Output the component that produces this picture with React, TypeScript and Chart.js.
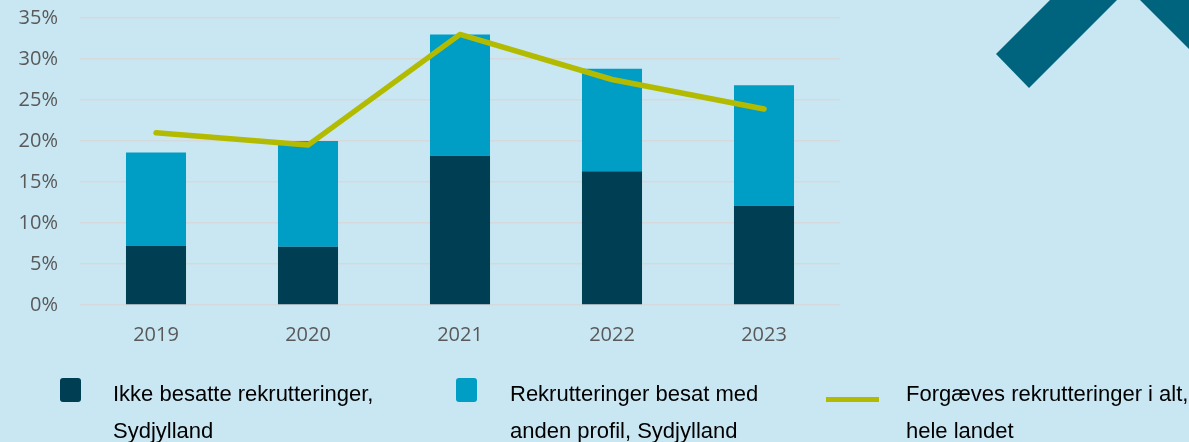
import React, { useEffect, useRef } from "react";
import { Chart, registerables } from "chart.js";

Chart.register(...registerables);

const categories = ["2019", "2020", "2021", "2022", "2023"];
const ikkeBesatte = [7.2, 7.1, 18.2, 16.3, 12.1];
const andenProfil = [11.4, 12.9, 14.8, 12.5, 14.7];
const forgaevesHeleLandet = [21.0, 19.5, 33.0, 27.5, 23.9];
const yTicks = [0, 5, 10, 15, 20, 25, 30, 35];

const legendLabels = [
  "Ikke besatte rekrutteringer, Sydjylland",
  "Rekrutteringer besat med anden profil, Sydjylland",
  "Forgæves rekrutteringer i alt, hele landet",
];

const BG = "#c9e7f3";
const DARK = "#003e53";
const LIGHT = "#009ec5";
const LINE = "#b3bb00";
const CHEVRON = "#00647e";

const W = 1189;
const H = 442;

const bgPlugin = {
  id: "bgChevron",
  beforeDraw(chart: any) {
    const ctx = chart.ctx;
    ctx.save();
    ctx.fillStyle = BG;
    ctx.fillRect(0, 0, chart.width, chart.height);
    ctx.fillStyle = CHEVRON;
    ctx.beginPath();
    ctx.moveTo(996, 54);
    ctx.lineTo(1050, 0);
    ctx.lineTo(1117, 0);
    ctx.lineTo(1029, 88);
    ctx.closePath();
    ctx.fill();
    ctx.beginPath();
    ctx.moveTo(1140, 0);
    ctx.lineTo(1189, 0);
    ctx.lineTo(1189, 49);
    ctx.closePath();
    ctx.fill();
    ctx.restore();
  },
};

export default function App() {
  const ref = useRef<HTMLCanvasElement>(null);
  useEffect(() => {
    document.body.style.margin = "0";
    const chart = new Chart(ref.current!, {
      type: "bar",
      data: {
        labels: categories,
        datasets: [
          {
            type: "line",
            label: legendLabels[2],
            data: forgaevesHeleLandet,
            borderColor: LINE,
            borderWidth: 5.5,
            pointRadius: 0,
            borderCapStyle: "round",
            borderJoinStyle: "round",
            tension: 0,
            stack: "line",
            order: 0,
          } as any,
          {
            type: "bar",
            label: legendLabels[0],
            data: ikkeBesatte,
            backgroundColor: DARK,
            stack: "bars",
            order: 1,
            barPercentage: 0.395,
            categoryPercentage: 1,
          },
          {
            type: "bar",
            label: legendLabels[1],
            data: andenProfil,
            backgroundColor: LIGHT,
            stack: "bars",
            order: 1,
            barPercentage: 0.395,
            categoryPercentage: 1,
          },
        ],
      },
      options: {
        animation: false,
        responsive: false,
        maintainAspectRatio: false,
        layout: { padding: { top: 18, right: W - 840, left: 0, bottom: 0 } },
        plugins: { legend: { display: false }, tooltip: { enabled: false } },
        scales: {
          x: {
            stacked: true,
            grid: { display: false, drawTicks: false },
            border: { display: false },
            ticks: {
              color: "#595959",
              font: { family: "Open Sans", size: 20 },
              padding: 18,
            },
            afterFit(scale: any) {
              scale.height = H - 305;
            },
          },
          y: {
            stacked: true,
            min: 0,
            max: 35,
            afterBuildTicks(scale: any) {
              scale.ticks = yTicks.map((v) => ({ value: v }));
            },
            grid: { color: "#d6d9db", lineWidth: 1.6, drawTicks: false },
            border: { display: false },
            ticks: {
              color: "#595959",
              font: { family: "Open Sans", size: 20 },
              padding: 22,
              callback: (v: any) => v + "%",
            },
            afterFit(scale: any) {
              scale.width = 80;
              scale.paddingTop = 0;
              scale.paddingBottom = 0;
            },
          },
        },
      },
      plugins: [bgPlugin],
    });
    return () => chart.destroy();
  }, []);

  const textStyle: React.CSSProperties = {
    position: "absolute",
    top: 375,
    fontFamily: "'Liberation Sans', Arial, sans-serif",
    fontSize: 22,
    lineHeight: "37px",
    color: "#000",
    whiteSpace: "pre",
  };

  return (
    <div style={{ position: "relative", width: W, height: H, overflow: "hidden", background: BG }}>
      <canvas ref={ref} width={W} height={H} style={{ display: "block" }} />
      <div style={{ position: "absolute", left: 60, top: 378, width: 21, height: 24, borderRadius: 3, background: DARK }} />
      <div style={{ ...textStyle, left: 113 }}>{"Ikke besatte rekrutteringer,\nSydjylland"}</div>
      <div style={{ position: "absolute", left: 456, top: 378, width: 21, height: 24, borderRadius: 3, background: LIGHT }} />
      <div style={{ ...textStyle, left: 510 }}>{"Rekrutteringer besat med\nanden profil, Sydjylland"}</div>
      <div style={{ position: "absolute", left: 826, top: 397, width: 53, height: 5, background: LINE }} />
      <div style={{ ...textStyle, left: 906 }}>{"Forgæves rekrutteringer i alt,\nhele landet"}</div>
    </div>
  );
}
